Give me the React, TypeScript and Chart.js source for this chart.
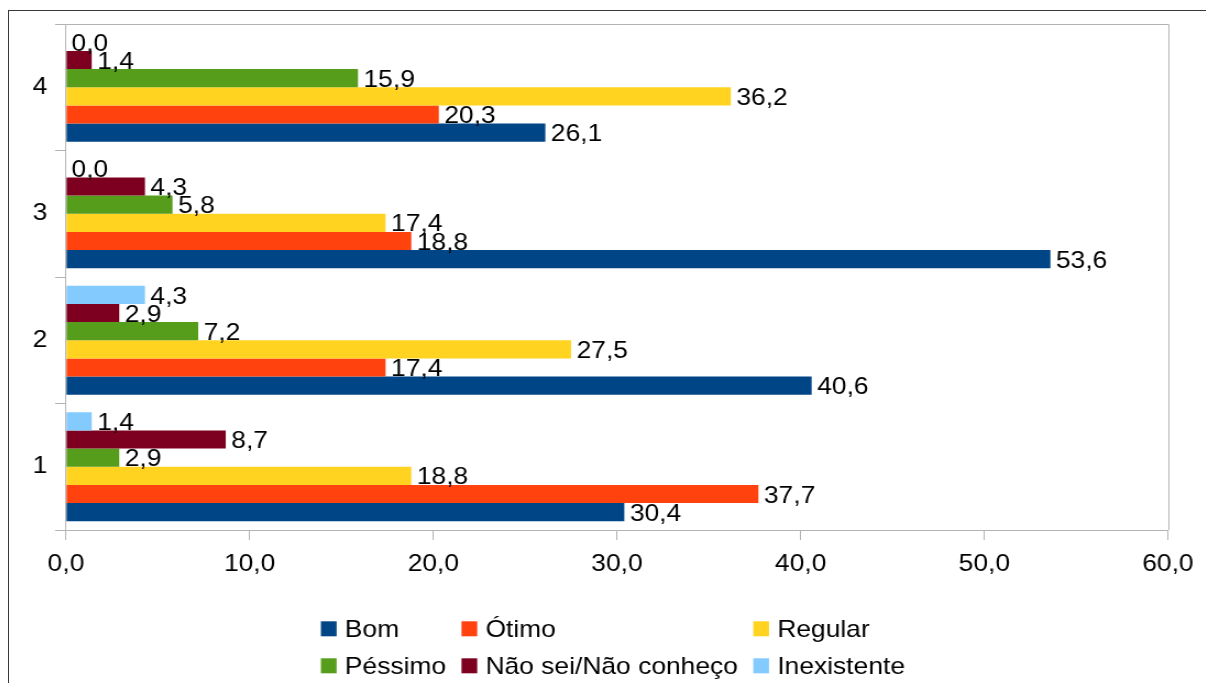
import React, { useEffect, useRef } from 'react';
import { Chart, registerables } from 'chart.js';

Chart.register(...registerables);

// ---- data ----
const categories = ['1', '2', '3', '4'];
const seriesNames = ['Bom', 'Ótimo', 'Regular', 'Péssimo', 'Não sei/Não conheço', 'Inexistente'];
const bom = [30.4, 40.6, 53.6, 26.1];
const otimo = [37.7, 17.4, 18.8, 20.3];
const regular = [18.8, 27.5, 17.4, 36.2];
const pessimo = [2.9, 7.2, 5.8, 15.9];
const naoSei = [8.7, 2.9, 4.3, 1.4];
const inexistente = [1.4, 4.3, 0.0, 0.0];
const seriesColors = ['#004586', '#ff420e', '#ffd320', '#579d1c', '#7e0021', '#83caff'];
const xMin = 0;
const xMax = 60;
const xStep = 10;

const seriesValues = [bom, otimo, regular, pessimo, naoSei, inexistente];

// ---- layout / style ----
const STRETCH = 1.1; // horizontal stretch of the original rendering
const CW = 1088;
const CH = 672;
const FONT_FAMILY = '"Liberation Sans", Arial, sans-serif';
const FONT_SIZE = 24;
const FONT = `${FONT_SIZE}px ${FONT_FAMILY}`;
const CAP = FONT_SIZE * 0.716;
const AXIS_COLOR = '#b3b3b3';

const fmt = (v: number) => v.toFixed(1).replace('.', ',');

const valueLabels = {
  id: 'valueLabels',
  afterDatasetsDraw(chart: any) {
    const ctx = chart.ctx;
    ctx.save();
    ctx.font = FONT;
    ctx.fillStyle = '#000';
    ctx.textAlign = 'left';
    ctx.textBaseline = 'alphabetic';
    chart.data.datasets.forEach((ds: any, i: number) => {
      const meta = chart.getDatasetMeta(i);
      meta.data.forEach((el: any, j: number) => {
        ctx.fillText(fmt(ds.data[j]), el.x + 5, el.y + CAP / 2);
      });
    });
    ctx.restore();
  },
};

const plotFrame = {
  id: 'plotFrame',
  afterDraw(chart: any) {
    const { ctx, chartArea } = chart;
    ctx.save();
    ctx.strokeStyle = AXIS_COLOR;
    ctx.lineWidth = 1;
    ctx.beginPath();
    const t = Math.round(chartArea.top) + 0.5;
    const r = Math.round(chartArea.right) + 0.5;
    ctx.moveTo(chartArea.left, t);
    ctx.lineTo(r, t);
    ctx.lineTo(r, chartArea.bottom);
    ctx.stroke();
    ctx.restore();
  },
};

const gridLegend = {
  id: 'gridLegend',
  afterDraw(chart: any) {
    const ctx = chart.ctx;
    ctx.save();
    ctx.font = FONT;
    ctx.textAlign = 'left';
    ctx.textBaseline = 'alphabetic';
    const cols = 3;
    const rows = [[0, 1, 2], [3, 4, 5]];
    const boxW = 14.3;
    const boxH = 15;
    const textOff = 21.8;
    const spacing = 14;
    const colW = [0, 1, 2].map((c) =>
      Math.max(...rows.map((r) => textOff + ctx.measureText(seriesNames[r[c]]).width))
    );
    const total = colW.reduce((a, b) => a + b, 0) + spacing * (cols - 1);
    const left = (chart.width - total) / 2 + 5;
    const rowY = [617.8, 654.8];
    rows.forEach((r, ri) => {
      let x = left;
      r.forEach((si, ci) => {
        const y = rowY[ri];
        ctx.fillStyle = seriesColors[si];
        ctx.fillRect(x, y - boxH / 2, boxW, boxH);
        ctx.fillStyle = '#000';
        ctx.fillText(seriesNames[si], x + textOff, y + CAP / 2);
        x += colW[ci] + spacing;
      });
    });
    ctx.restore();
  },
};

export default function App() {
  const ref = useRef<HTMLCanvasElement | null>(null);

  useEffect(() => {
    if (!ref.current) return;
    // Chart.js stacks bars of a category top-to-bottom in dataset order;
    // the reference has the first series at the bottom, so feed them reversed.
    const order = seriesNames.map((_, i) => i).reverse();
    const chart = new Chart(ref.current, {
      type: 'bar',
      data: {
        labels: categories,
        datasets: order.map((i) => ({
          label: seriesNames[i],
          data: seriesValues[i],
          backgroundColor: seriesColors[i],
          borderWidth: 0,
          categoryPercentage: 0.86,
          barPercentage: 1,
        })),
      },
      options: {
        indexAxis: 'y',
        animation: false,
        responsive: false,
        devicePixelRatio: 1,
        layout: { padding: { top: 13, right: 34.4, bottom: 0, left: 0 } },
        plugins: {
          legend: { display: false },
          tooltip: { enabled: false },
          title: { display: false },
        },
        scales: {
          x: {
            type: 'linear',
            min: xMin,
            max: xMax,
            afterFit: (s: any) => {
              s.height = 153;
            },
            ticks: {
              stepSize: xStep,
              callback: (v: any) => fmt(Number(v)),
              font: { family: FONT_FAMILY, size: FONT_SIZE },
              color: '#000',
              padding: 10,
              maxRotation: 0,
              autoSkip: false,
            },
            grid: {
              drawOnChartArea: false,
              drawTicks: true,
              tickLength: 10,
              color: AXIS_COLOR,
            },
            border: { display: true, color: AXIS_COLOR },
          },
          y: {
            type: 'category',
            reverse: true,
            offset: true,
            afterFit: (s: any) => {
              s.width = 51.8;
              s.paddingTop = 0;
              s.paddingBottom = 0;
            },
            ticks: {
              font: { family: FONT_FAMILY, size: FONT_SIZE },
              color: '#000',
              padding: 7,
            },
            grid: {
              offset: true,
              drawOnChartArea: false,
              drawTicks: true,
              tickLength: 10,
              color: AXIS_COLOR,
            },
            border: { display: true, color: AXIS_COLOR },
          },
        },
      } as any,
      plugins: [valueLabels, plotFrame, gridLegend],
    });
    return () => chart.destroy();
  }, []);

  return (
    <div
      style={{
        position: 'fixed',
        left: 8,
        top: 10,
        right: 0,
        bottom: 0,
        borderLeft: '1px solid #383838',
        borderTop: '1px solid #383838',
        overflow: 'hidden',
        background: '#fff',
      }}
    >
      <div
        style={{
          width: CW,
          height: CH,
          transform: `scaleX(${STRETCH})`,
          transformOrigin: '0 0',
        }}
      >
        <canvas ref={ref} width={CW} height={CH} style={{ width: CW, height: CH, display: 'block' }} />
      </div>
    </div>
  );
}
